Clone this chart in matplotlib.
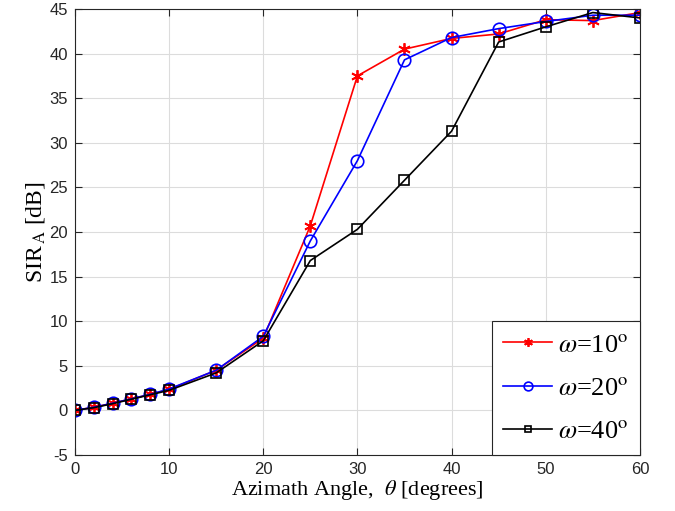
import matplotlib
matplotlib.use('Agg')
import matplotlib.pyplot as plt

plt.rcParams['mathtext.fontset'] = 'stix'
plt.rcParams['axes.unicode_minus'] = False

angles = [0, 2, 4, 6, 8, 10, 15, 20, 25, 30, 35, 40, 45, 50, 55, 60]
sir_w10 = [0.0, 0.35, 0.8, 1.3, 1.8, 2.35, 4.5, 8.1, 20.7, 37.5, 40.5, 41.7, 42.2, 43.8, 43.7, 44.6]
sir_w20 = [0.0, 0.35, 0.8, 1.3, 1.8, 2.4, 4.5, 8.3, 19.0, 28.0, 39.3, 41.8, 42.8, 43.6, 44.3, 44.3]
sir_w40 = [0.0, 0.3, 0.75, 1.25, 1.75, 2.25, 4.2, 7.8, 16.8, 20.3, 25.8, 31.3, 41.3, 43.0, 44.6, 44.0]
labels = [r'$\omega$=10$^\mathrm{o}$', r'$\omega$=20$^\mathrm{o}$', r'$\omega$=40$^\mathrm{o}$']

fig = plt.figure(figsize=(6.75, 5.11), dpi=100)
ax = fig.add_axes([0.111, 0.1096, 0.837, 0.8728])

ax.plot(angles, sir_w10, '-', marker=(6, 2, 0), color='red', lw=1.2, ms=9, mew=1.3, label=labels[0])
ax.plot(angles, sir_w20, '-o', color='blue', lw=1.2, ms=9, mfc='none', mew=1.2, label=labels[1])
ax.plot(angles, sir_w40, '-s', color='black', lw=1.2, ms=6.5, mfc='none', mew=1.2, label=labels[2])

ax.set_xlim(0, 60)
ax.set_ylim(-5, 45)
ax.set_xticks(range(0, 61, 10))
ax.set_yticks(range(-5, 46, 5))
ax.grid(True, color='#dcdcdc', lw=0.8)
ax.set_axisbelow(True)
ax.tick_params(direction='in', top=True, right=True, labelsize=12, length=5,
               colors='#262626', pad=5)
for lbl in ax.get_xticklabels() + ax.get_yticklabels():
    lbl.set_fontfamily('Liberation Sans')
for s in ax.spines.values():
    s.set_color('#262626')

ax.set_xlabel(r'Azimath Angle,  $\theta$ [degrees]', fontsize=16, family='Liberation Serif', labelpad=1)
ax.set_ylabel(r'SIR$_{\,\mathrm{A}}$ [dB]', fontsize=17, family='Liberation Serif', labelpad=2)

leg = ax.legend(loc='lower right', prop={'family': 'Liberation Serif', 'size': 19},
                fancybox=False, edgecolor='#262626', framealpha=1, handlelength=1.85,
                borderaxespad=0, labelspacing=0.75, handletextpad=0.2, borderpad=0.45,
                markerscale=0.7)
leg.get_frame().set_linewidth(0.8)

fig.savefig('out.png', dpi=100)
